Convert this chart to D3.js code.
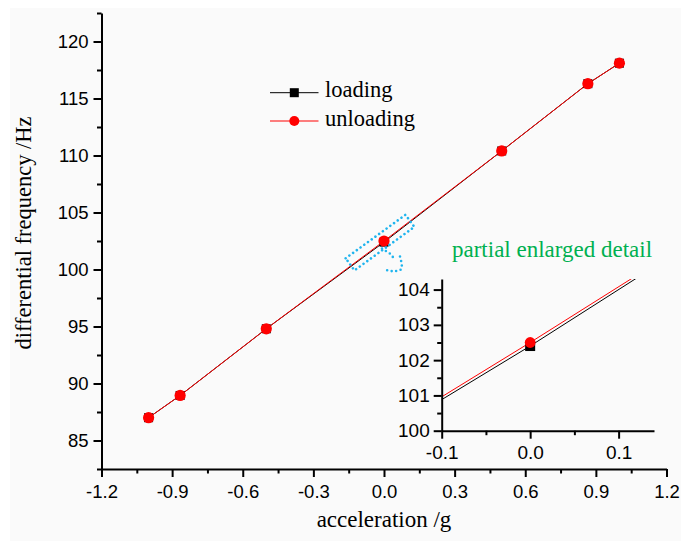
<!DOCTYPE html>
<html>
<head>
<meta charset="utf-8">
<script src="https://cdn.jsdelivr.net/npm/d3@7"></script>
<style>
  html, body { margin: 0; padding: 0; background: #ffffff; }
  svg { display: block; }
</style>
</head>
<body>
<svg id="chart" width="681" height="541"></svg>
<script>
// Measured acceleration (g) and differential frequency (Hz)
const accel     = [-1, -0.866, -0.5, 0, 0.5, 0.866, 1];
const loading   = [87.0, 88.95, 94.8, 102.4, 110.4, 116.3, 118.1];
const unloading = [87.0, 88.95, 94.8, 102.5, 110.4, 116.3, 118.1];

const seriesNames = ["loading", "unloading"];

// Main axes ticks
const xMajor = [-1.2, -0.9, -0.6, -0.3, 0.0, 0.3, 0.6, 0.9, 1.2];
const xMinor = [-1.05, -0.75, -0.45, -0.15, 0.15, 0.45, 0.75, 1.05];
const yMajor = [85, 90, 95, 100, 105, 110, 115, 120];
const yMinor = [82.5, 87.5, 92.5, 97.5, 102.5, 107.5, 112.5, 117.5, 122.5];

// Inset ticks
const ixMajor = [-0.1, 0.0, 0.1];
const ixMinor = [-0.05, 0.05];
const iyMajor = [100, 101, 102, 103, 104];
const iyMinor = [100.5, 101.5, 102.5, 103.5];

const insetTitle = "partial enlarged detail";
const xTitle = "acceleration /g";
const yTitle = "differential frequency /Hz";

const svg = d3.select("#chart");
const serif = "'Liberation Serif', 'Times New Roman', serif";
const sans = "'Liberation Sans', Arial, sans-serif";

// panel background
svg.append("rect").attr("x", 10).attr("y", 8).attr("width", 671).attr("height", 533)
  .attr("fill", "#fafafa");

const rows = accel.map((a, i) => ({ a, l: loading[i], u: unloading[i] }));

function drawAxes(g, x, y, opts) {
  const fmtX = opts.fmtX, fmtY = opts.fmtY;
  const [y0] = y.range();
  const [x0] = x.range();
  // minor ticks
  g.append("g").attr("transform", `translate(0,${y0})`)
    .call(d3.axisBottom(x).tickValues(opts.xMinor).tickSize(opts.minor).tickSizeOuter(0).tickFormat(""))
    .call(s => s.select(".domain").remove());
  g.append("g").attr("transform", `translate(${x0},0)`)
    .call(d3.axisLeft(y).tickValues(opts.yMinor).tickSize(opts.minor).tickSizeOuter(0).tickFormat(""))
    .call(s => s.select(".domain").remove());
  // major ticks + labels
  const gx = g.append("g").attr("transform", `translate(0,${y0})`)
    .call(d3.axisBottom(x).tickValues(opts.xMajor).tickSize(opts.major).tickSizeOuter(0)
      .tickPadding(opts.xPad).tickFormat(fmtX));
  const gy = g.append("g").attr("transform", `translate(${x0},0)`)
    .call(d3.axisLeft(y).tickValues(opts.yMajor).tickSize(opts.major).tickSizeOuter(0)
      .tickPadding(opts.yPad).tickFormat(fmtY));
  [gx, gy].forEach(a => {
    a.selectAll("text").attr("font-family", sans).attr("font-size", opts.fontSize).attr("fill", "#000");
  });
  g.selectAll(".tick line").attr("stroke", "#000").attr("stroke-width", 2);
  g.selectAll(".domain").attr("stroke", "#000").attr("stroke-width", 2);
}

// ---------- main plot ----------
const x = d3.scaleLinear().domain([-1.2, 1.2]).range([101.5, 666.5]);
const y = d3.scaleLinear().domain([82.5, 122.5]).range([469, 13]);

const main = svg.append("g");
drawAxes(main, x, y, {
  xMajor, xMinor, yMajor, yMinor, major: 8, minor: 4.5, xPad: 8, yPad: 5,
  fontSize: "18.5px",
  fmtX: d => d.toFixed(1), fmtY: d => String(d)
});

const lineL = d3.line().x(d => x(d.a)).y(d => y(d.l));
const lineU = d3.line().x(d => x(d.a)).y(d => y(d.u));
main.append("path").datum(rows).attr("d", lineL).attr("fill", "none").attr("stroke", "#000").attr("stroke-width", 1);
main.append("path").datum(rows).attr("d", lineU).attr("fill", "none").attr("stroke", "#ff0000").attr("stroke-width", 1);
main.selectAll("rect.sq").data(rows).join("rect").attr("class", "sq")
  .attr("x", d => x(d.a) - 4.5).attr("y", d => y(d.l) - 4.5).attr("width", 9).attr("height", 9).attr("fill", "#000");
main.selectAll("circle.ci").data(rows).join("circle").attr("class", "ci")
  .attr("cx", d => x(d.a)).attr("cy", d => y(d.u)).attr("r", 5.6).attr("fill", "#ff0000");

// axis titles
svg.append("text").attr("x", 384).attr("y", 527).attr("text-anchor", "middle")
  .attr("font-family", serif).attr("font-size", "23px").attr("fill", "#000").text(xTitle);
svg.append("text").attr("transform", "translate(31,233) rotate(-90)").attr("text-anchor", "middle")
  .attr("font-family", serif).attr("font-size", "22.5px").attr("fill", "#000").text(yTitle);

// legend
const legend = svg.append("g");
const legY = [92.7, 121];
seriesNames.forEach((name, i) => {
  const col = i === 0 ? "#000" : "#ff0000";
  legend.append("line").attr("x1", 270).attr("x2", 318.5).attr("y1", legY[i]).attr("y2", legY[i])
    .attr("stroke", col).attr("stroke-width", 1);
  if (i === 0) {
    legend.append("rect").attr("x", 294.3 - 4.5).attr("y", legY[i] - 4.5).attr("width", 9).attr("height", 9).attr("fill", col);
  } else {
    legend.append("circle").attr("cx", 294.3).attr("cy", legY[i]).attr("r", 5).attr("fill", col);
  }
  legend.append("text").attr("x", 325).attr("y", legY[i] + 4.5)
    .attr("font-family", serif).attr("font-size", "22.5px").attr("fill", "#000").text(name);
});

// dotted highlight around the point at 0 g, with a small pointer toward the inset
const hx = x(accel[3]) - 4, hy = (y(loading[3]) + y(unloading[3])) / 2 + 1;
const hi = svg.append("g").attr("fill", "none").attr("stroke", "#1fb4ee")
  .attr("stroke-width", 2.6).attr("stroke-linecap", "round").attr("stroke-dasharray", "0 4.6");
hi.append("rect").attr("x", -37).attr("y", -7.5).attr("width", 74).attr("height", 15)
  .attr("transform", `translate(${hx},${hy}) rotate(-36)`);
hi.append("path").attr("d",
  `M${hx + 2},${hy + 6} L${hx + 10},${hy + 11} L${hx + 15},${hy + 17} ` +
  `M${hx + 20},${hy + 14} L${hx + 22},${hy + 22} L${hx + 21},${hy + 27} L${hx + 14},${hy + 29} L${hx + 4},${hy + 27}`);

// ---------- inset ----------
const ix = d3.scaleLinear().domain([-0.1, 0.14]).range([441.7, 654]);
const iy = d3.scaleLinear().domain([100, 104.3]).range([430.7, 279]);

svg.append("text").attr("x", 452).attr("y", 257).attr("font-family", serif)
  .attr("font-size", "23px").attr("fill", "#00b050").text(insetTitle);

const inset = svg.append("g");
svg.append("defs").append("clipPath").attr("id", "insetClip").append("rect")
  .attr("x", ix.range()[0]).attr("y", iy.range()[1])
  .attr("width", ix.range()[1] - ix.range()[0]).attr("height", iy.range()[0] - iy.range()[1]);

const ilineL = d3.line().x(d => ix(d.a)).y(d => iy(d.l));
const ilineU = d3.line().x(d => ix(d.a)).y(d => iy(d.u));
const ic = inset.append("g").attr("clip-path", "url(#insetClip)");
ic.append("path").datum(rows).attr("d", ilineL).attr("fill", "none").attr("stroke", "#000").attr("stroke-width", 1);
ic.append("path").datum(rows).attr("d", ilineU).attr("fill", "none").attr("stroke", "#ff0000").attr("stroke-width", 1);

const inRows = rows.filter(d => d.a >= -0.1 && d.a <= 0.14);
inset.selectAll("rect.sq").data(inRows).join("rect").attr("class", "sq")
  .attr("x", d => ix(d.a) - 5).attr("y", d => iy(d.l) - 5).attr("width", 10).attr("height", 10).attr("fill", "#000");
inset.selectAll("circle.ci").data(inRows).join("circle").attr("class", "ci")
  .attr("cx", d => ix(d.a)).attr("cy", d => iy(d.u)).attr("r", 5.4).attr("fill", "#ff0000");

drawAxes(inset, ix, iy, {
  xMajor: ixMajor, xMinor: ixMinor, yMajor: iyMajor, yMinor: iyMinor,
  major: 8, minor: 4.5, xPad: 7, yPad: 4, fontSize: "19px",
  fmtX: d => d.toFixed(1), fmtY: d => String(d)
});
</script>
</body>
</html>
